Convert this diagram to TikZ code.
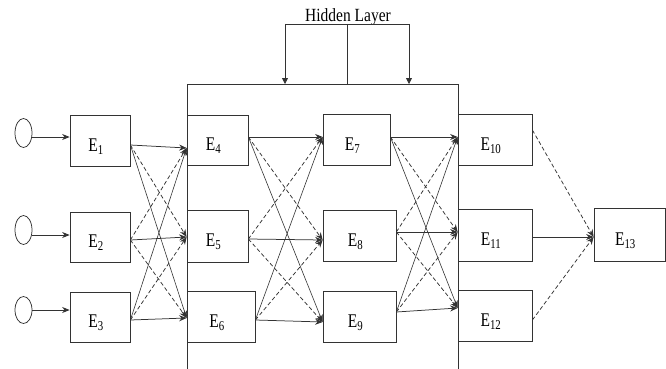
\documentclass[tikz,border=0pt]{standalone}
\usepackage{fontspec}
\setmainfont{Liberation Serif}
\usetikzlibrary{arrows.meta,calc,shapes.geometric}
\begin{document}
\begin{tikzpicture}[x=1pt,y=-1pt,
  ln/.style={draw=black!80,line width=0.75pt},
  box/.style={ln,rectangle,inner sep=0pt,fill=white},
  lbl/.style={font=\fontsize{15.5}{18}\selectfont,inner sep=0pt},
  inp/.style={ln,ellipse,minimum width=17pt,minimum height=29pt,inner sep=0pt},
  arr/.style={ln,-{Stealth[length=7.5pt,width=6pt]}},
  darr/.style={arr,dash pattern=on 4pt off 2.5pt},
  larr/.style={arr,line width=0.6pt},
  tarr/.style={ln,-{Triangle[length=6pt,width=6pt]}}
]
\useasboundingbox (0,0) rectangle (666,369);
% boxes
\newcommand{\ebox}[6]{%
  \node[box,minimum width=#4pt,minimum height=#5pt] (#1) at (#2,#3) {};
  \node[lbl] (#1l) at ($(#1.center)+(-4,6)$) {\scalebox{1}[1.25]{E\textsubscript{#6}}};}
\ebox{e1}{100}{140.5}{60}{51}{1}
\ebox{e2}{100}{237}{60}{50}{2}
\ebox{e3}{100}{317}{60}{50}{3}
\ebox{e4}{217.5}{140}{61}{50}{4}
\ebox{e5}{217.5}{236}{61}{52}{5}
\ebox{e6}{221}{316.5}{68}{51}{6}
\ebox{e7}{356.5}{139.5}{67}{51}{7}
\ebox{e8}{359.5}{235.5}{73}{51}{8}
\ebox{e9}{359.5}{316.5}{73}{51}{9}
\ebox{e10}{495}{139.5}{74}{51}{10}
\ebox{e11}{495}{235}{74}{52}{11}
\ebox{e12}{495}{315.5}{74}{51}{12}
\ebox{e13}{629.5}{234.5}{71}{53}{13}
% hidden layer frame
\coordinate (hbl) at (187,369);
\coordinate (htl) at (187,84);
\coordinate (htr) at (458,84);
\coordinate (hbr) at (458,369);
\draw[ln] (hbl) -- (htl) -- (htr) -- (hbr);
% hidden layer label and bracket
\node[lbl] (hl) at (348,17) {\scalebox{1}[1.2]{Hidden Layer}};
\coordinate (bl) at (285,24);
\coordinate (bm) at (347,24);
\coordinate (br) at (409,24);
\draw[ln] (bl) -- (br);
\draw[ln] (bm) -- (bm |- htl);
\draw[tarr] (bl) -- (bl |- htl);
\draw[tarr] (br) -- (br |- htl);
% inputs
\node[inp] (c1) at (23.5,133) {};
\node[inp] (c2) at (23.5,230) {};
\node[inp,minimum height=27pt] (c3) at (23.5,310) {};
\draw[arr] ([yshift=-4pt]c1.east) -- ([yshift=3.5pt]e1.west);
\draw[arr] ([yshift=-5pt]c2.east) -- ([yshift=2pt]e2.west);
\draw[arr] (c3.east) -- ([yshift=7pt]e3.west);
% layer 1 -> 2
\coordinate (s1) at ([yshift=-4.5pt]e1.east);
\coordinate (s2) at ([yshift=-3pt]e2.east);
\coordinate (s3) at ([yshift=-3pt]e3.east);
\coordinate (t4) at ([yshift=-8pt]e4.west);
\coordinate (t5) at ([yshift=-1pt]e5.west);
\coordinate (t6) at ([yshift=-1.5pt]e6.west);
\draw[arr] (s1) -- (t4);
\draw[arr] (s2) -- (t5);
\draw[arr] (s3) -- (t6);
\draw[darr] (s1) -- (t5);
\draw[darr] (s2) -- (t4);
\draw[darr] (s2) -- (t6);
\draw[darr] (s3) -- (t5);
\draw[larr] (s1) -- (t6);
\draw[larr] (s3) -- (t4);
% layer 2 -> 3
\coordinate (s4) at ([yshift=3pt]e4.east);
\coordinate (s5) at ([yshift=-3pt]e5.east);
\coordinate (s6) at ([yshift=-3.5pt]e6.east);
\coordinate (t7) at ([yshift=2.5pt]e7.west);
\coordinate (t8) at ([yshift=-4.5pt]e8.west);
\coordinate (t9) at ([yshift=-5.5pt]e9.west);
\draw[arr] (s4) -- (t7);
\draw[arr] (s5) -- (t8);
\draw[arr] (s6) -- (t9);
\draw[darr] (s4) -- (t8);
\draw[darr] (s5) -- (t7);
\draw[darr] (s5) -- (t9);
\draw[darr] (s6) -- (t8);
\draw[larr] (s4) -- (t9);
\draw[larr] (s6) -- (t7);
% layer 3 -> 4
\coordinate (s7) at ([yshift=2.5pt]e7.east);
\coordinate (s8) at ([yshift=3.5pt]e8.east);
\coordinate (s9) at ([yshift=4.5pt]e9.east);
\coordinate (t10) at ([yshift=2.5pt]e10.west);
\coordinate (t11) at ([yshift=3pt]e11.west);
\coordinate (t12) at ([yshift=7.5pt]e12.west);
\draw[arr] (s7) -- (t10);
\draw[arr] (s8) -- (t11);
\draw[arr] (s9) -- (t12);
\draw[darr] (s7) -- (t11);
\draw[darr] (s8) -- (t10);
\draw[darr] (s8) -- (t12);
\draw[darr] (s9) -- (t11);
\draw[larr] (s7) -- (t12);
\draw[larr] (s9) -- (t10);
% layer 4 -> 5
\coordinate (s10) at ([yshift=9.5pt]e10.east);
\coordinate (s11) at ([yshift=-2pt]e11.east);
\coordinate (s12) at ([yshift=-4.5pt]e12.east);
\coordinate (t13) at ([yshift=-2.5pt]e13.west);
\draw[darr] (s10) -- (t13);
\draw[arr] (s11) -- (t13);
\draw[darr] (s12) -- (t13);
\end{tikzpicture}
\end{document}
